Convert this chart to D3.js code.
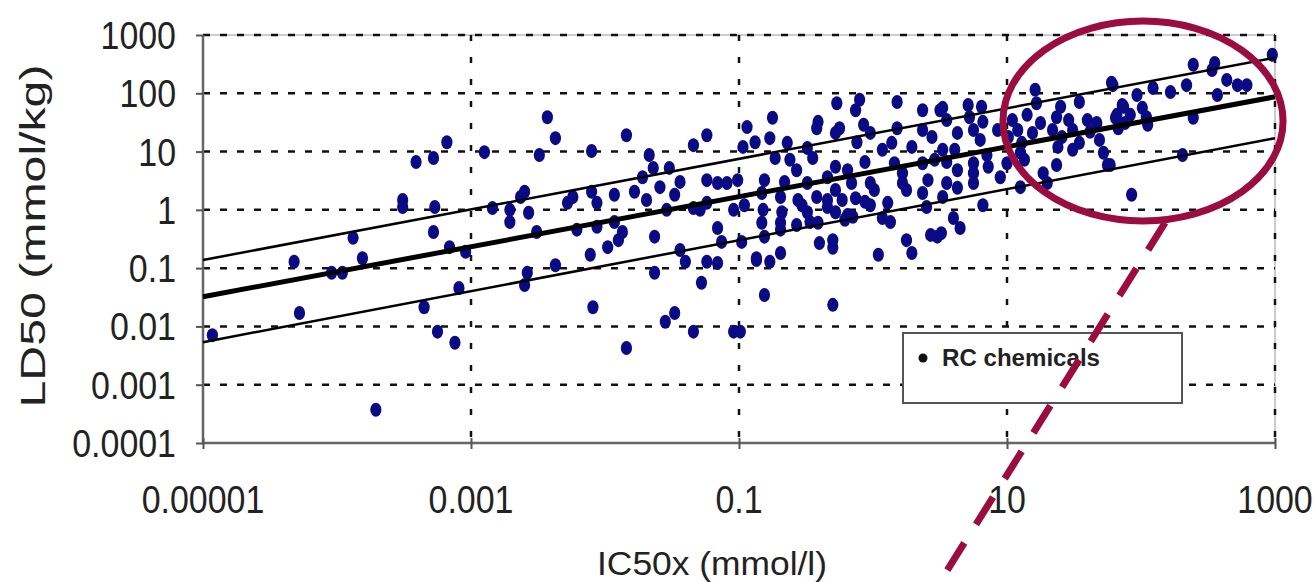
<!DOCTYPE html>
<html>
<head>
<meta charset="utf-8">
<script src="https://cdn.jsdelivr.net/npm/d3@7"></script>
<style>
  body { margin: 0; background: #fff; }
  text { font-family: "Liberation Sans", Arial, sans-serif; fill: #222; }
</style>
</head>
<body>
<svg id="canvas" width="1315" height="582"></svg>
<script>
// values, kept as log10(IC50x), log10(LD50)
let chemicals = [
  [-3.88,-0.48],[-4.32,-0.89],[-3.81,-0.83],[-4.04,-1.08],[-3.96,-1.08],[-4.28,-1.77],[-4.93,-2.15],[-3.71,-3.43],
  [-2.43,1.59],[-2.37,1.23],[-3.18,1.16],[-3.41,0.82],[-3.28,0.89],[-2.90,0.99],[-2.49,0.94],[-3.51,0.17],
  [-3.51,0.05],[-3.27,0.05],[-3.28,-0.38],[-3.16,-0.64],[-3.04,-0.72],[-2.84,0.03],[-2.71,0.00],[-2.71,-0.21],
  [-2.63,0.22],[-2.60,0.31],[-2.57,-0.05],[-2.51,-0.38],[-2.28,0.12],[-3.35,-1.67],[-3.09,-1.34],[-2.58,-1.08],
  [-2.60,-1.29],[-2.37,-0.95],[-3.25,-2.09],[-3.12,-2.28],
  [-1.84,1.28],[-2.10,1.01],[-1.67,0.94],[-1.34,1.11],[-1.24,1.28],[-0.94,1.42],[-0.97,1.08],[-1.64,0.72],
  [-1.72,0.56],[-1.52,0.72],[-1.44,0.48],[-1.59,0.39],[-1.78,0.31],[-1.93,0.26],[-2.10,0.31],[-2.24,0.22],
  [-2.06,0.12],[-1.69,0.17],[-1.48,0.26],[-1.54,0.00],[-1.24,0.51],[-1.16,0.46],[-1.09,0.46],[-1.01,0.51],
  [-1.29,0.00],[-1.24,0.12],[-1.34,0.03],[-1.04,0.00],[-0.96,0.08],[-2.21,-0.34],[-2.06,-0.29],[-1.93,-0.21],
  [-1.87,-0.38],[-1.90,-0.52],[-1.98,-0.64],[-2.11,-0.77],[-1.63,-0.46],[-1.16,-0.31],[-1.44,-0.69],[-1.40,-0.89],
  [-1.24,-0.89],[-1.16,-0.91],[-1.13,-0.55],[-0.98,-0.55],[-0.87,-0.86],[-1.63,-1.08],[-1.28,-1.25],[-2.09,-1.67],
  [-1.55,-1.92],[-1.48,-1.77],[-1.34,-2.09],[-1.04,-2.09],[-0.99,-2.09],[-1.84,-2.37],
  [-0.27,1.83],[-0.10,1.89],[-0.13,1.71],[0.18,1.85],[0.37,1.71],[0.50,1.71],[-0.75,1.58],[-0.41,1.51],
  [-0.42,1.40],[-0.25,1.40],[-0.28,1.32],[-0.07,1.46],[-0.02,1.32],[-0.12,1.16],[0.18,1.40],[0.14,1.15],
  [0.37,1.37],[0.44,1.25],[-0.88,1.16],[-0.77,1.23],[-0.64,1.15],[-0.49,1.06],[0.07,1.03],[0.29,1.08],
  [-0.73,0.89],[-0.62,0.86],[-0.57,0.68],[-0.45,0.89],[-0.28,0.74],[-0.19,0.68],[-0.06,0.82],[0.16,0.80],
  [0.22,0.63],[0.37,0.80],[0.46,0.86],[-0.81,0.51],[-0.66,0.48],[-0.49,0.46],[-0.34,0.56],[-0.28,0.34],
  [-0.16,0.46],[-0.02,0.46],[0.01,0.34],[0.22,0.46],[0.25,0.34],[0.41,0.51],[-0.83,0.29],[-0.69,0.22],
  [-0.56,0.17],[-0.42,0.22],[-0.34,0.17],[-0.23,0.17],[-0.13,0.20],[-0.06,0.14],[0.37,0.29],[-0.82,0.00],
  [-0.68,-0.04],[-0.53,0.08],[-0.49,-0.04],[-0.34,0.05],[-0.28,-0.04],[-0.19,-0.09],[-0.02,0.08],[0.11,0.12],
  [0.40,0.05],[-0.83,-0.22],[-0.69,-0.22],[-0.57,-0.26],[-0.47,-0.21],[-0.41,-0.22],[-0.21,-0.17],[-0.15,-0.12],
  [0.07,-0.14],[0.13,-0.21],[-0.81,-0.46],[-0.69,-0.34],[-0.40,-0.57],[-0.30,-0.52],[-0.30,-0.65],[0.25,-0.52],
  [0.43,-0.43],[0.48,-0.46],[-0.87,-0.83],[-0.77,-0.89],[-0.69,-0.74],[0.04,-0.77],[0.29,-0.74],[-0.81,-1.46],
  [-0.30,-1.63],
  [1.21,2.06],[1.78,2.18],[0.52,1.75],[0.71,1.80],[0.81,1.77],[1.22,1.83],[1.40,1.77],[1.54,1.85],
  [1.86,1.80],[0.55,1.54],[0.72,1.59],[0.82,1.51],[1.04,1.54],[1.15,1.63],[1.25,1.49],[1.37,1.59],
  [1.46,1.54],[1.60,1.54],[1.67,1.49],[1.81,1.58],[1.88,1.49],[0.63,1.32],[0.75,1.37],[0.93,1.37],
  [1.08,1.37],[1.19,1.32],[1.34,1.37],[1.49,1.37],[1.62,1.34],[0.80,1.20],[1.01,1.25],[1.11,1.15],
  [1.41,1.25],[1.54,1.15],[1.69,1.20],[0.52,1.03],[0.61,1.03],[0.85,0.94],[1.10,0.98],[1.38,1.08],
  [1.49,1.03],[1.72,0.98],[0.55,0.82],[0.75,0.80],[0.86,0.74],[1.00,0.80],[1.13,0.86],[1.37,0.77],
  [1.75,0.77],[0.63,0.68],[0.75,0.63],[0.95,0.56],[1.27,0.63],[0.55,0.46],[0.63,0.38],[0.75,0.46],
  [1.10,0.39],[1.30,0.46],[0.52,0.22],[0.82,0.08],[0.60,-0.14],[0.65,-0.31],[0.51,-0.40],
  [2.98,2.66],[2.39,2.49],[2.55,2.52],[2.53,2.40],[2.09,2.09],[2.22,2.02],[2.34,2.14],[2.64,2.23],
  [2.72,2.14],[2.79,2.14],[2.57,1.97],[1.79,2.14],[1.97,1.97],[1.87,1.77],[1.82,1.63],[1.92,1.63],
  [2.01,1.75],[2.04,1.59],[2.05,1.46],[1.83,1.40],[2.39,1.58],[2.31,0.94],[1.77,0.77],[1.93,0.26]
]

// regression line and its prediction band (log10 endpoints)
let fitLine = [[-5, -1.49], [3, 1.94]]
let upperLine = [[-5, -0.86], [3, 2.61]]
let lowerLine = [[-5, -2.27], [3, 1.23]]

let xTicks = [1e-5, 1e-3, 1e-1, 10, 1000]
let xTickLabels = ['0.00001', '0.001', '0.1', '10', '1000']
let yTicks = [1e-4, 1e-3, 1e-2, 1e-1, 1, 10, 100, 1000]
let yTickLabels = ['0.0001', '0.001', '0.01', '0.1', '1', '10', '100', '1000']

// highlight ellipse (log10 box) and callout line (log10 ends)
let highlightBox = [[0.97, 3.24], [3.06, -0.19]]
let callout = [[2.18, -0.22], [0.50, -6.38]]

let canvas = d3.select('#canvas')

let xScale = d3.scaleLog().domain([1e-5, 1000]).range([203, 1275])
let yScale = d3.scaleLog().domain([1e-4, 1000]).range([443, 35])
let px = (v) => xScale(Math.pow(10, v))
let py = (v) => yScale(Math.pow(10, v))

let plotLeft = xScale.range()[0]
let plotRight = xScale.range()[1]
let plotTop = yScale.range()[1]
let plotBottom = yScale.range()[0]

// frame on top and right
canvas.append('path')
    .attr('d', `M${plotLeft},${plotTop}H${plotRight}V${plotBottom}`)
    .attr('fill', 'none')
    .attr('stroke', '#999')
    .attr('stroke-width', 1)

// horizontal gridlines
canvas.selectAll('.hgrid')
    .data(yTicks.slice(1))
    .enter()
    .append('line')
    .attr('class', 'hgrid')
    .attr('x1', plotLeft)
    .attr('x2', plotRight)
    .attr('y1', (d) => yScale(d))
    .attr('y2', (d) => yScale(d))
    .attr('stroke', '#111')
    .attr('stroke-width', 2.5)
    .attr('stroke-dasharray', '7,10')

// vertical gridlines
canvas.selectAll('.vgrid')
    .data(xTicks.slice(1))
    .enter()
    .append('line')
    .attr('class', 'vgrid')
    .attr('x1', (d) => xScale(d))
    .attr('x2', (d) => xScale(d))
    .attr('y1', plotTop)
    .attr('y2', plotBottom)
    .attr('stroke', '#111')
    .attr('stroke-width', 2.5)
    .attr('stroke-dasharray', '6,16')

// axes
let yAxis = d3.axisLeft(yScale)
    .tickValues(yTicks)
    .tickSize(7)
    .tickFormat('')
let xAxis = d3.axisBottom(xScale)
    .tickValues(xTicks)
    .tickSize(6)
    .tickFormat('')

let gy = canvas.append('g')
    .attr('transform', `translate(${plotLeft},0)`)
    .call(yAxis)
let gx = canvas.append('g')
    .attr('transform', `translate(0,${plotBottom})`)
    .call(xAxis)

gx.selectAll('.tick line').attr('y1', -5)
canvas.selectAll('.domain').attr('stroke', '#666').attr('stroke-width', 2.5)
canvas.selectAll('.tick line').attr('stroke', '#555').attr('stroke-width', 2)
gy.select('.domain').attr('d', `M0,${plotTop}V${plotBottom}`)
gx.select('.domain').attr('d', `M${plotLeft},0H${plotRight}`)

// tick labels
canvas.selectAll('.ylab')
    .data(yTicks)
    .enter()
    .append('text')
    .attr('class', 'ylab')
    .attr('transform', (d) => `translate(176,${yScale(d) + 14}) scale(0.87,1)`)
    .attr('text-anchor', 'end')
    .style('font-size', '39px')
    .text((d, i) => yTickLabels[i])

canvas.selectAll('.xlab')
    .data(xTicks)
    .enter()
    .append('text')
    .attr('class', 'xlab')
    .attr('transform', (d) => `translate(${xScale(d)},513) scale(0.87,1)`)
    .attr('text-anchor', 'middle')
    .style('font-size', '39px')
    .text((d, i) => xTickLabels[i])

// axis titles
canvas.append('text')
    .attr('transform', 'translate(45,236) rotate(-90)')
    .attr('text-anchor', 'middle')
    .attr('textLength', 343)
    .attr('lengthAdjust', 'spacingAndGlyphs')
    .style('font-size', '35px')
    .text('LD50 (mmol/kg)')

canvas.append('text')
    .attr('x', 712)
    .attr('y', 575)
    .attr('text-anchor', 'middle')
    .attr('textLength', 230)
    .attr('lengthAdjust', 'spacingAndGlyphs')
    .style('font-size', '34px')
    .text('IC50x (mmol/l)')

// scatter
canvas.selectAll('.chem')
    .data(chemicals)
    .enter()
    .append('ellipse')
    .attr('class', 'chem')
    .attr('cx', (d) => px(d[0]))
    .attr('cy', (d) => py(d[1]))
    .attr('rx', 5.6)
    .attr('ry', 7)
    .attr('fill', '#0a0a84')

// fit lines
let line = d3.line()
    .x((d) => px(d[0]))
    .y((d) => py(d[1]))

canvas.append('path').datum(upperLine).attr('d', line)
    .attr('fill', 'none').attr('stroke', '#000').attr('stroke-width', 2.5)
canvas.append('path').datum(lowerLine).attr('d', line)
    .attr('fill', 'none').attr('stroke', '#000').attr('stroke-width', 2.5)
canvas.append('path').datum(fitLine).attr('d', line)
    .attr('fill', 'none').attr('stroke', '#000').attr('stroke-width', 5)

// legend
let legend = canvas.append('g')
legend.append('rect')
    .attr('x', 903)
    .attr('y', 333)
    .attr('width', 279)
    .attr('height', 70)
    .attr('fill', '#fff')
    .attr('stroke', '#555')
    .attr('stroke-width', 2)
legend.append('circle')
    .attr('cx', 923)
    .attr('cy', 358)
    .attr('r', 4.5)
    .attr('fill', '#111')
legend.append('text')
    .attr('x', 942)
    .attr('y', 366)
    .attr('textLength', 158)
    .attr('lengthAdjust', 'spacingAndGlyphs')
    .style('font-size', '23px')
    .style('font-weight', 'bold')
    .text('RC chemicals')

// highlight annotation
let ex0 = px(highlightBox[0][0]), ex1 = px(highlightBox[1][0])
let ey0 = py(highlightBox[0][1]), ey1 = py(highlightBox[1][1])
canvas.append('ellipse')
    .attr('cx', (ex0 + ex1) / 2)
    .attr('cy', (ey0 + ey1) / 2)
    .attr('rx', (ex1 - ex0) / 2)
    .attr('ry', (ey1 - ey0) / 2)
    .attr('fill', 'none')
    .attr('stroke', '#9b0d3f')
    .attr('stroke-width', 7)

canvas.append('path')
    .datum(callout)
    .attr('d', line)
    .attr('fill', 'none')
    .attr('stroke', '#9b0d3f')
    .attr('stroke-width', 7)
    .attr('stroke-dasharray', '32,22')
</script>
</body>
</html>
